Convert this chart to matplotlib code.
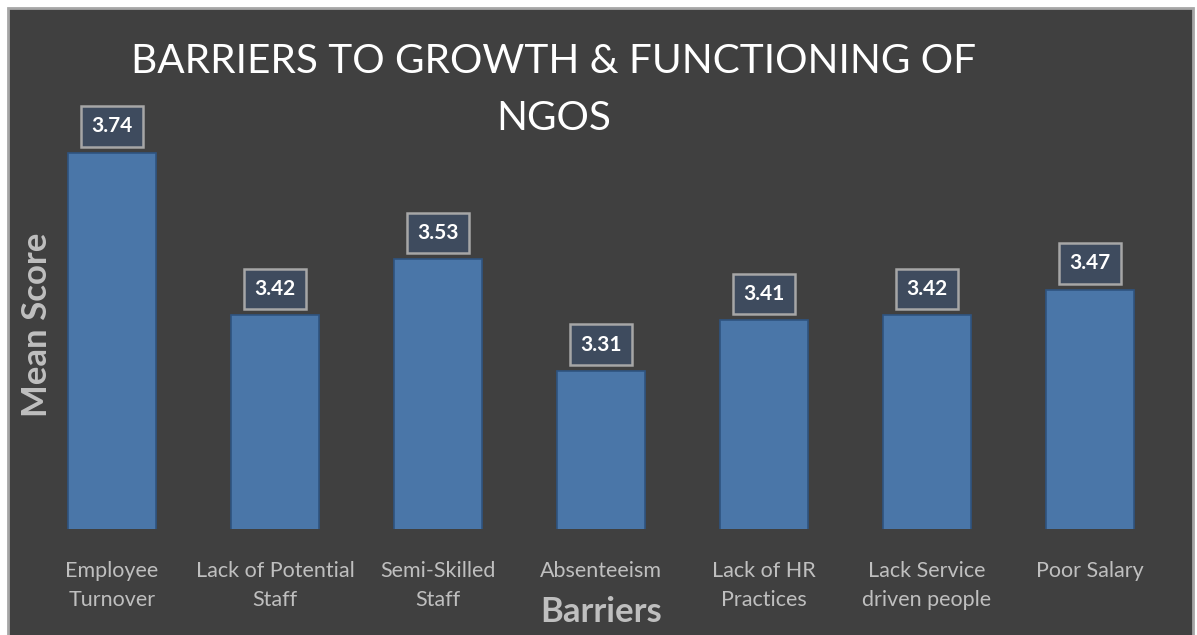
import matplotlib.pyplot as plt
from matplotlib.patches import Rectangle

categories = ["Employee\nTurnover", "Lack of Potential\nStaff", "Semi-Skilled\nStaff",
              "Absenteeism", "Lack of HR\nPractices", "Lack Service\ndriven people",
              "Poor Salary"]
mean_scores = [3.74, 3.42, 3.53, 3.31, 3.41, 3.42, 3.47]
value_labels = ["3.74", "3.42", "3.53", "3.31", "3.41", "3.42", "3.47"]
title_lines = ["BARRIERS TO GROWTH & FUNCTIONING OF", "NGOS"]

BG = "#404040"
BAR = "#4a76a8"
TXT = "#bfbfbf"


def main():
    plt.rcParams['font.family'] = ['Lato', 'DejaVu Sans']
    fig = plt.figure(figsize=(11.97, 6.35), dpi=100, facecolor="white")

    # dark chart area with light frame
    frame = Rectangle((8/1197, -0.1), (1193-8)/1197, 1.1 - 8/635,
                      transform=fig.transFigure, facecolor=BG,
                      edgecolor="#a6a6a6", linewidth=2, zorder=-5)
    fig.patches.append(frame)

    ax = fig.add_axes([30.5/1197, 1-529/635, (1171.5-30.5)/1197, (529-122)/635])
    ax.set_facecolor("none")
    x = range(len(categories))
    ax.bar(x, mean_scores, width=0.54, bottom=0, color=BAR,
           edgecolor="#2f5480", linewidth=1.2)
    ax.set_ylim(3.0, 3.8)
    ax.set_xlim(-0.5, len(categories) - 0.5)

    for i, (v, lab) in enumerate(zip(mean_scores, value_labels)):
        ax.annotate(lab, (i, v), xytext=(0, 19), textcoords="offset points",
                    ha="center", va="center", color="white", fontsize=15,
                    fontweight="bold",
                    bbox=dict(boxstyle="square,pad=0.5", facecolor="#3e4b5e",
                              edgecolor="#a6a6a6", linewidth=1.8))

    ax.set_xticks(list(x))
    ax.set_xticklabels(categories, color=TXT, fontsize=15.5, linespacing=1.55)
    ax.tick_params(axis="x", length=0, pad=23)
    ax.set_yticks([])
    for s in ax.spines.values():
        s.set_visible(False)

    fig.text(554/1197, 1-73/635, title_lines[0], ha="center", va="baseline",
             color="white", fontsize=29.2)
    fig.text(554/1197, 1-130/635, title_lines[1], ha="center", va="baseline",
             color="white", fontsize=29.2)
    fig.text(601/1197, 1-612/635, "Barriers", ha="center", va="center",
             color=TXT, fontsize=25, fontweight="bold")
    fig.text(37/1197, 1-325/635, "Mean Score", ha="center", va="center",
             color=TXT, fontsize=25, fontweight="bold", rotation=90)

    fig.savefig("out.png", dpi=100, facecolor="white")


if __name__ == "__main__":
    main()
